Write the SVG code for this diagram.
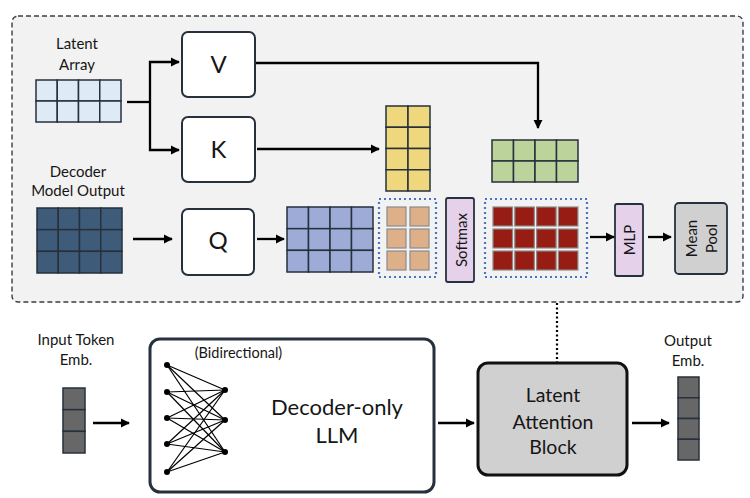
<svg xmlns="http://www.w3.org/2000/svg" width="750" height="498" viewBox="0 0 750 498">
<defs>
<marker id="ah" viewBox="0 0 10 10" refX="9" refY="5" markerWidth="4" markerHeight="4" markerUnits="strokeWidth" orient="auto">
<path d="M0,0 L10,5 L0,10 Z" fill="#000"/>
</marker>
<style>
text{font-family:Lato,"Open Sans","Noto Sans",sans-serif;fill:#161616;text-anchor:middle}
.lbl{font-size:15px}
.box{fill:#fff;stroke:#26313d;stroke-width:2}
.cell{stroke:#26313d;stroke-width:1.5}
.blue{fill:#deebf7}
.navy{fill:#3f5b7a}
.yel{fill:#efd77e}
.grn{fill:#bdd39c}
.pur{fill:#9eabd6}
.org{fill:#ddb08a;stroke:#8a8a8a;stroke-width:1.2}
.red{fill:#971c13;stroke:#8a8a8a;stroke-width:1.2}
.gry{fill:#676767}
.dot{fill:none;stroke:#4a74c4;stroke-width:2.2;stroke-dasharray:2 3}
.lav{fill:#e6d1ea;stroke:#26313d;stroke-width:1.8}
.conn{fill:none;stroke:#000;stroke-width:2.3}
.net line{stroke:#000;stroke-width:1.2}
</style>
</defs>

<rect id="frame" x="12" y="16" width="731" height="286" rx="6" fill="#f2f2f2" stroke="#3a3f45" stroke-width="1.4" stroke-dasharray="5 3"/>

<g id="latent-array">
<text class="lbl" x="77" y="49">Latent</text>
<text class="lbl" x="77" y="70">Array</text>
<rect class="cell blue" x="36" y="80" width="21.25" height="21"/>
<rect class="cell blue" x="57.25" y="80" width="21.25" height="21"/>
<rect class="cell blue" x="78.5" y="80" width="21.25" height="21"/>
<rect class="cell blue" x="99.75" y="80" width="21.25" height="21"/>
<rect class="cell blue" x="36" y="101" width="21.25" height="21"/>
<rect class="cell blue" x="57.25" y="101" width="21.25" height="21"/>
<rect class="cell blue" x="78.5" y="101" width="21.25" height="21"/>
<rect class="cell blue" x="99.75" y="101" width="21.25" height="21"/>
</g>

<g id="decoder-output">
<text class="lbl" x="78" y="177">Decoder</text>
<text class="lbl" x="78" y="196">Model Output</text>
<rect class="cell navy" x="37" y="208" width="21.25" height="21.67"/>
<rect class="cell navy" x="58.25" y="208" width="21.25" height="21.67"/>
<rect class="cell navy" x="79.5" y="208" width="21.25" height="21.67"/>
<rect class="cell navy" x="100.75" y="208" width="21.25" height="21.67"/>
<rect class="cell navy" x="37" y="229.67" width="21.25" height="21.67"/>
<rect class="cell navy" x="58.25" y="229.67" width="21.25" height="21.67"/>
<rect class="cell navy" x="79.5" y="229.67" width="21.25" height="21.67"/>
<rect class="cell navy" x="100.75" y="229.67" width="21.25" height="21.67"/>
<rect class="cell navy" x="37" y="251.33" width="21.25" height="21.67"/>
<rect class="cell navy" x="58.25" y="251.33" width="21.25" height="21.67"/>
<rect class="cell navy" x="79.5" y="251.33" width="21.25" height="21.67"/>
<rect class="cell navy" x="100.75" y="251.33" width="21.25" height="21.67"/>
</g>

<g id="V"><rect class="box" x="182" y="32" width="73" height="65" rx="6"/><text x="218.5" y="72.5" font-size="24">V</text></g>
<g id="K"><rect class="box" x="182" y="117" width="73" height="65" rx="6"/><text x="218.5" y="157.5" font-size="24">K</text></g>
<g id="Q"><rect class="box" x="182" y="209" width="72" height="66" rx="6"/><text x="218" y="248.5" font-size="24">Q</text></g>

<g id="keys">
<rect class="cell yel" x="386" y="106" width="22" height="21.25"/>
<rect class="cell yel" x="408" y="106" width="22" height="21.25"/>
<rect class="cell yel" x="386" y="127.25" width="22" height="21.25"/>
<rect class="cell yel" x="408" y="127.25" width="22" height="21.25"/>
<rect class="cell yel" x="386" y="148.5" width="22" height="21.25"/>
<rect class="cell yel" x="408" y="148.5" width="22" height="21.25"/>
<rect class="cell yel" x="386" y="169.75" width="22" height="21.25"/>
<rect class="cell yel" x="408" y="169.75" width="22" height="21.25"/>
</g>

<g id="values">
<rect class="cell grn" x="492" y="140" width="21.5" height="21"/>
<rect class="cell grn" x="513.5" y="140" width="21.5" height="21"/>
<rect class="cell grn" x="535" y="140" width="21.5" height="21"/>
<rect class="cell grn" x="556.5" y="140" width="21.5" height="21"/>
<rect class="cell grn" x="492" y="161" width="21.5" height="21"/>
<rect class="cell grn" x="513.5" y="161" width="21.5" height="21"/>
<rect class="cell grn" x="535" y="161" width="21.5" height="21"/>
<rect class="cell grn" x="556.5" y="161" width="21.5" height="21"/>
</g>

<g id="queries">
<rect class="cell pur" x="287" y="207" width="21.5" height="21.67"/>
<rect class="cell pur" x="308.5" y="207" width="21.5" height="21.67"/>
<rect class="cell pur" x="330" y="207" width="21.5" height="21.67"/>
<rect class="cell pur" x="351.5" y="207" width="21.5" height="21.67"/>
<rect class="cell pur" x="287" y="228.67" width="21.5" height="21.67"/>
<rect class="cell pur" x="308.5" y="228.67" width="21.5" height="21.67"/>
<rect class="cell pur" x="330" y="228.67" width="21.5" height="21.67"/>
<rect class="cell pur" x="351.5" y="228.67" width="21.5" height="21.67"/>
<rect class="cell pur" x="287" y="250.33" width="21.5" height="21.67"/>
<rect class="cell pur" x="308.5" y="250.33" width="21.5" height="21.67"/>
<rect class="cell pur" x="330" y="250.33" width="21.5" height="21.67"/>
<rect class="cell pur" x="351.5" y="250.33" width="21.5" height="21.67"/>
</g>

<g id="scores">
<rect class="dot" x="379" y="199" width="57" height="78"/>
<rect class="org" x="387" y="207" width="19" height="19"/>
<rect class="org" x="410" y="207" width="19" height="19"/>
<rect class="org" x="387" y="229" width="19" height="19"/>
<rect class="org" x="410" y="229" width="19" height="19"/>
<rect class="org" x="387" y="251" width="19" height="19"/>
<rect class="org" x="410" y="251" width="19" height="19"/>
</g>

<g id="softmax">
<rect class="lav" x="446" y="198" width="28" height="84" rx="2"/>
<text x="0" y="0" font-size="15" transform="translate(467,240) rotate(-90)">Softmax</text>
</g>

<g id="attn-out">
<rect class="dot" x="485" y="199" width="102" height="78"/>
<rect class="red" x="493" y="207" width="19.5" height="19"/>
<rect class="red" x="514.8" y="207" width="19.5" height="19"/>
<rect class="red" x="536.6" y="207" width="19.5" height="19"/>
<rect class="red" x="558.4" y="207" width="19.5" height="19"/>
<rect class="red" x="493" y="229" width="19.5" height="19"/>
<rect class="red" x="514.8" y="229" width="19.5" height="19"/>
<rect class="red" x="536.6" y="229" width="19.5" height="19"/>
<rect class="red" x="558.4" y="229" width="19.5" height="19"/>
<rect class="red" x="493" y="251" width="19.5" height="19"/>
<rect class="red" x="514.8" y="251" width="19.5" height="19"/>
<rect class="red" x="536.6" y="251" width="19.5" height="19"/>
<rect class="red" x="558.4" y="251" width="19.5" height="19"/>
</g>

<g id="MLP">
<rect class="lav" x="615" y="204" width="28" height="72" rx="2"/>
<text x="0" y="0" font-size="15" transform="translate(635,240) rotate(-90)">MLP</text>
</g>

<g id="mean-pool">
<rect x="675" y="203" width="52" height="71" rx="4" fill="#d0d0d0" stroke="#26313d" stroke-width="1.8"/>
<text x="0" y="0" font-size="15" transform="translate(697,238.5) rotate(-90)">Mean</text>
<text x="0" y="0" font-size="15" transform="translate(717,238.5) rotate(-90)">Pool</text>
</g>

<g id="input-emb">
<text class="lbl" x="76" y="345">Input Token</text>
<text class="lbl" x="76" y="365">Emb.</text>
<rect class="cell gry" x="63" y="388" width="22" height="21.67"/>
<rect class="cell gry" x="63" y="409.67" width="22" height="21.67"/>
<rect class="cell gry" x="63" y="431.33" width="22" height="21.67"/>
</g>

<g id="llm">
<rect x="150" y="339" width="284" height="153" rx="10" fill="#fff" stroke="#26313d" stroke-width="3"/>
<text x="238.5" y="358" font-size="14.5">(Bidirectional)</text>
<text x="337" y="415" font-size="22">Decoder-only</text>
<text x="337" y="443" font-size="22">LLM</text>
<g class="net">
<line x1="167" y1="365" x2="225" y2="390"/><line x1="167" y1="365" x2="225" y2="420"/><line x1="167" y1="365" x2="225" y2="452"/>
<line x1="167" y1="392" x2="225" y2="390"/><line x1="167" y1="392" x2="225" y2="420"/><line x1="167" y1="392" x2="225" y2="452"/>
<line x1="167" y1="418" x2="225" y2="390"/><line x1="167" y1="418" x2="225" y2="420"/><line x1="167" y1="418" x2="225" y2="452"/>
<line x1="167" y1="444" x2="225" y2="390"/><line x1="167" y1="444" x2="225" y2="420"/><line x1="167" y1="444" x2="225" y2="452"/>
<line x1="167" y1="472" x2="225" y2="390"/><line x1="167" y1="472" x2="225" y2="420"/><line x1="167" y1="472" x2="225" y2="452"/>
</g>
<g fill="#000">
<circle cx="167" cy="365" r="3"/><circle cx="167" cy="392" r="3"/><circle cx="167" cy="418" r="3"/><circle cx="167" cy="444" r="3"/><circle cx="167" cy="472" r="3"/>
<circle cx="225" cy="390" r="3"/><circle cx="225" cy="420" r="3"/><circle cx="225" cy="452" r="3"/>
</g>
</g>

<g id="latent-attention-block">
<rect x="478" y="363" width="149" height="112" rx="10" fill="#d0d0d0" stroke="#111" stroke-width="3"/>
<text x="553" y="402" font-size="19.5">Latent</text>
<text x="553" y="429" font-size="19.5">Attention</text>
<text x="553" y="454" font-size="19.5">Block</text>
</g>

<g id="output-emb">
<text class="lbl" x="688" y="346">Output</text>
<text class="lbl" x="688" y="366">Emb.</text>
<rect class="cell gry" x="678" y="377" width="21" height="20.75"/>
<rect class="cell gry" x="678" y="397.75" width="21" height="20.75"/>
<rect class="cell gry" x="678" y="418.5" width="21" height="20.75"/>
<rect class="cell gry" x="678" y="439.25" width="21" height="20.75"/>
</g>

<g id="connectors">
<path class="conn" d="M127,102 H150"/>
<path class="conn" d="M150,102 V62 H179" marker-end="url(#ah)"/>
<path class="conn" d="M150,102 V150 H179" marker-end="url(#ah)"/>
<path class="conn" d="M256,63 H538 V128" marker-end="url(#ah)"/>
<path class="conn" d="M257,149 H379" marker-end="url(#ah)"/>
<path class="conn" d="M133,239 H172" marker-end="url(#ah)"/>
<path class="conn" d="M257,239 H284" marker-end="url(#ah)"/>
<path class="conn" d="M590,237 H614" marker-end="url(#ah)"/>
<path class="conn" d="M648,237 H671" marker-end="url(#ah)"/>
<path class="conn" d="M93,423 H129" marker-end="url(#ah)"/>
<path class="conn" d="M438,423 H474" marker-end="url(#ah)"/>
<path class="conn" d="M632,423 H669" marker-end="url(#ah)"/>
<path d="M557,303 V362" fill="none" stroke="#000" stroke-width="2.2" stroke-dasharray="2 2.5"/>
</g>
</svg>
